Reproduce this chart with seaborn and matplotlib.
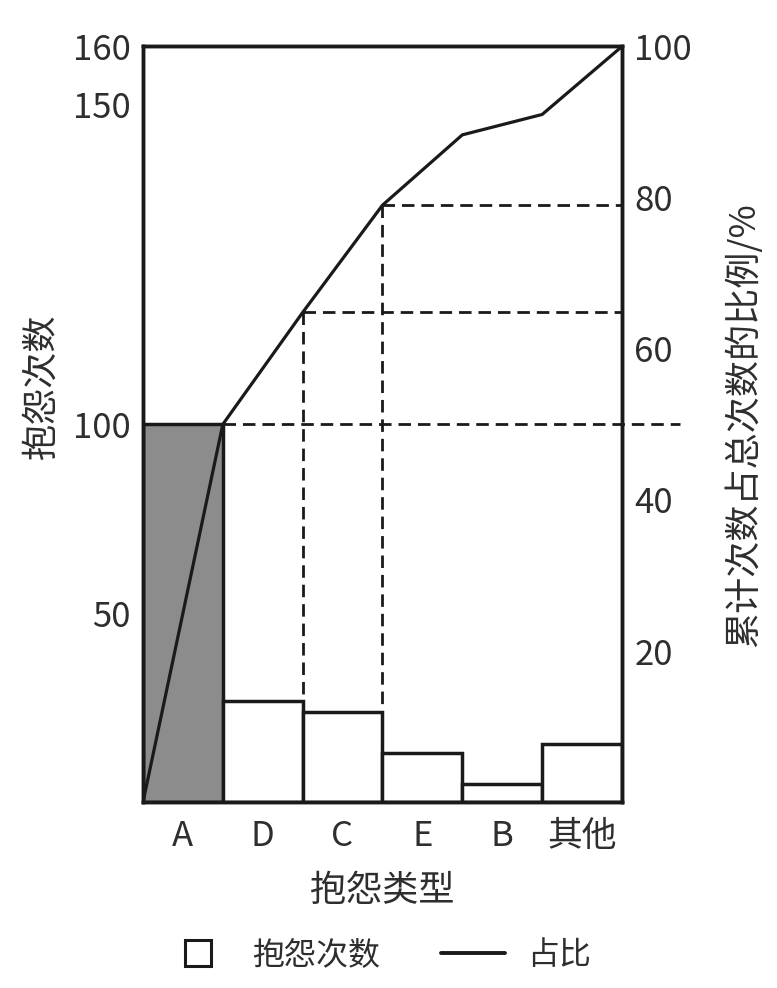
import numpy as np
import pandas as pd
import seaborn as sns
import matplotlib.pyplot as plt
from matplotlib.lines import Line2D

# complaint types (sorted Pareto order) and counts
types = ['A', 'D', 'C', 'E', 'B', '其他']
counts = [100, 26.7, 23.8, 13, 4.8, 15.3]
# cumulative share (%) at the right edge of each bar
cum_pct = [50, 64.8, 79, 88.3, 91, 100]

left_ticks = [50, 100, 150, 160]
right_ticks = [20, 40, 60, 80, 100]

sns.set_theme(style='white')
plt.rcParams['font.family'] = ['Noto Sans CJK SC', 'DejaVu Sans']
txt = '#2e2e2e'

# left axis in the drawing is not linear: piecewise map counts -> percent height
cnt_knots = [0, 100, 150, 160]
pct_knots = [0, 50, 92.3, 100]
def to_pct(v):
    return np.interp(v, cnt_knots, pct_knots)
def to_cnt(v):
    return np.interp(v, pct_knots, cnt_knots)

df = pd.DataFrame({'type': types, 'count': counts})

fig = plt.figure(figsize=(7.77, 9.88), dpi=100)
ax = fig.add_axes([0.184, 0.188, 0.6165, 0.765])
ax.set_yscale('function', functions=(to_pct, to_cnt))

sns.barplot(data=df, x='type', y='count', hue='type', ax=ax, width=1,
            palette=['#8c8c8c'] + ['white'] * 5, legend=False,
            edgecolor='#1a1a1a', linewidth=2.5, saturation=1)
ax.set_ylim(0, 160)
ax.set_xlim(-0.5, 5.5)
ax.set_yticks(left_ticks)
ax.set_yticklabels([str(t) for t in left_ticks])
ax.set_xlabel('抱怨类型', fontsize=26, color=txt, labelpad=14)
ax.set_ylabel('抱怨次数', fontsize=26, color=txt)
ax.tick_params(axis='both', length=0, labelsize=25, labelcolor=txt)
ax.tick_params(axis='x', pad=12)
ax.tick_params(axis='y', pad=9)
ax.yaxis.set_label_coords(-0.175, 0.55)

ax2 = ax.twinx()
ax2.set_ylim(0, 100)
xs = np.arange(-0.5, len(types), 1.0)
ax2.plot(xs, [0] + cum_pct, color='#1a1a1a', lw=2.3)

# dashed guide lines
dash = (0, (4.5, 2.5))
ax2.plot([0.5, 6.23], [cum_pct[0], cum_pct[0]], ls=dash, color='#1a1a1a', lw=2, clip_on=False)
for i in (1, 2):
    ax2.plot([i + 0.5, 5.5], [cum_pct[i], cum_pct[i]], ls=dash, color='#1a1a1a', lw=2)
    ax2.plot([i + 0.5, i + 0.5], [cum_pct[i], to_pct(counts[i])], ls=dash, color='#1a1a1a', lw=2)

ax2.set_yticks(right_ticks)
ax2.set_yticklabels([str(t) for t in right_ticks])
ax2.tick_params(axis='y', length=0, labelsize=25, labelcolor=txt, pad=9)
ax2.set_ylabel('累计次数占总次数的比例/%', fontsize=26, color=txt, rotation=90)
ax2.yaxis.set_label_coords(1.215, 0.5)

for a in (ax, ax2):
    for s in a.spines.values():
        s.set_visible(True)
        s.set_color('#1a1a1a')
        s.set_linewidth(2.5)

handles = [Line2D([], [], ls='', marker='s', markersize=19, markerfacecolor='white',
                  markeredgecolor='#1a1a1a', markeredgewidth=2.2),
           Line2D([], [], color='#1a1a1a', lw=2.8)]
fig.legend(handles, ['抱怨次数', '占比'], loc='center', bbox_to_anchor=(0.487, 0.033),
           ncol=2, frameon=False, fontsize=23, handlelength=2.0,
           columnspacing=1.9, handletextpad=0.7, labelcolor=txt)

fig.savefig('out.png', dpi=100)
